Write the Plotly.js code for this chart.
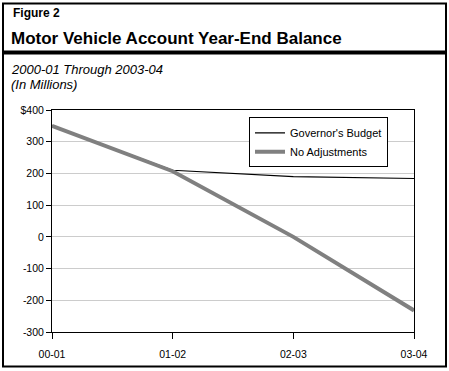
<!DOCTYPE html>
<html>
<head>
<meta charset="utf-8">
<script src="https://cdn.plot.ly/plotly-3.0.1.min.js"></script>
<style>html,body{margin:0;padding:0;background:#fff;}#chart{width:449px;height:371px;}</style>
</head>
<body>
<div id="chart"></div>
<script>
var categories = ["00-01", "01-02", "02-03", "03-04"];
var governorsBudget = [350, 210, 190, 184];
var noAdjustments = [350, 207, 0, -232];
var yTickVals = [400, 300, 200, 100, 0, -100, -200, -300];
var yTickText = ["$400", "300", "200", "100", "0", "-100", "-200", "-300"];

var W = 449, H = 371;
var L = 52, R = 414, T = 109.7, B = 332.3;
function px(x){ return (x - L) / (R - L); }
function py(y){ return (B - y) / (B - T); }

var font = "Liberation Sans, Arial, sans-serif";

var traces = [
  {x: categories, y: governorsBudget, type: "scatter", mode: "lines", name: "Governor's Budget",
   line: {color: "#000000", width: 1.2}},
  {x: categories, y: noAdjustments, type: "scatter", mode: "lines", name: "No Adjustments",
   line: {color: "#808080", width: 4}}
];

var layout = {
  width: W, height: H, autosize: false,
  margin: {l: L, r: W - R, t: T, b: H - B, pad: 0},
  paper_bgcolor: "#ffffff", plot_bgcolor: "#ffffff",
  font: {family: font, size: 10, color: "#000"},
  showlegend: true,
  legend: {x: px(249), y: py(117), xanchor: "left", yanchor: "top",
           bordercolor: "#000", borderwidth: 1, bgcolor: "#fff",
           font: {family: font, size: 11, color: "#000"}, tracegroupgap: 0},
  xaxis: {type: "category", range: [0, 3], showgrid: false, showline: true, linecolor: "#000", linewidth: 1,
          mirror: true, ticks: "outside", ticklen: 6, tickcolor: "#000", ticklabelstandoff: 6,
          tickfont: {family: font, size: 10.5, color: "#000"}, fixedrange: true},
  yaxis: {range: [-300, 400], tickvals: yTickVals, ticktext: yTickText, showgrid: true, gridcolor: "#cccccc",
          zeroline: false, showline: true, linecolor: "#000", linewidth: 1, mirror: true,
          ticks: "outside", ticklen: 5, tickcolor: "#000",
          tickfont: {family: font, size: 10.5, color: "#000"}, fixedrange: true},
  shapes: [
    {type: "rect", xref: "paper", yref: "paper", x0: px(3), x1: px(446), y0: py(3), y1: py(367),
     line: {color: "#000", width: 2}, fillcolor: "rgba(0,0,0,0)", layer: "above"},
    {type: "line", xref: "paper", yref: "paper", x0: px(3), x1: px(446), y0: py(52), y1: py(52),
     line: {color: "#000", width: 4}}
  ],
  annotations: [
    {xref: "paper", yref: "paper", x: px(11), y: py(12), xanchor: "left", yanchor: "middle",
     text: "<b>Figure 2</b>", showarrow: false, font: {family: font, size: 12, color: "#000"}},
    {xref: "paper", yref: "paper", x: px(9), y: py(38), xanchor: "left", yanchor: "middle",
     text: "<b>Motor Vehicle Account Year-End Balance</b>", showarrow: false,
     font: {family: font, size: 17, color: "#000"}},
    {xref: "paper", yref: "paper", x: px(9), y: py(69), xanchor: "left", yanchor: "middle",
     text: "<i>2000-01 Through 2003-04</i>", showarrow: false, font: {family: font, size: 13, color: "#000"}},
    {xref: "paper", yref: "paper", x: px(9), y: py(84), xanchor: "left", yanchor: "middle",
     text: "<i>(In Millions)</i>", showarrow: false, font: {family: font, size: 13, color: "#000"}}
  ]
};

Plotly.newPlot("chart", traces, layout, {displayModeBar: false, staticPlot: true});
</script>
</body>
</html>
